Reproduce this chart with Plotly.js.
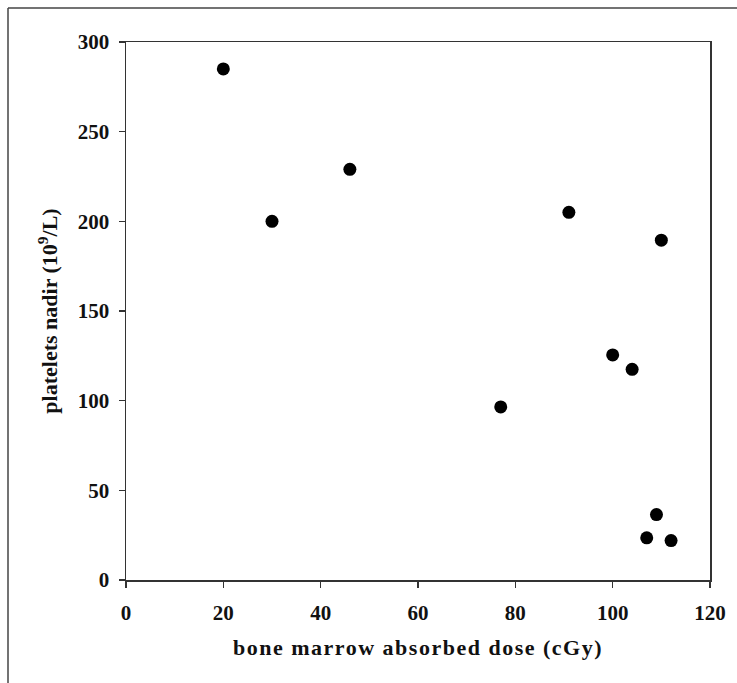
<!DOCTYPE html>
<html>
<head>
<meta charset="utf-8">
<script src="https://cdn.plot.ly/plotly-3.0.1.min.js"></script>
<style>
html,body{margin:0;padding:0;background:#fff;}
#chart{width:737px;height:683px;}
.xtitle{letter-spacing:1.5px;}
</style>
</head>
<body>
<div id="chart"></div>
<script>
const doseCGy = [20, 30, 46, 77, 91, 100, 104, 110, 109, 107, 112];
const plateletsNadir = [285, 200, 229, 96.5, 205, 125.5, 117.5, 189.5, 36.5, 23.5, 22];
const xTicks = [0, 20, 40, 60, 80, 100, 120];
const yTicks = [0, 50, 100, 150, 200, 250, 300];

const font = {family: '"Liberation Serif", "Times New Roman", serif', color: '#111'};

const trace = {
  x: doseCGy, y: plateletsNadir, type: 'scatter', mode: 'markers',
  marker: {size: 13, color: '#000'}, hoverinfo: 'skip'
};

const axisCommon = {
  showgrid: false, zeroline: false, showline: true, linecolor: '#333', linewidth: 1.5,
  ticks: 'outside', ticklen: 6, tickwidth: 1.5, tickcolor: '#333',
  tickfont: Object.assign({size: 21, weight: 'bold'}, font), mirror: true
};

const layout = {
  width: 737, height: 683,
  margin: {l: 126, r: 27, t: 42, b: 103},
  paper_bgcolor: '#fff', plot_bgcolor: '#fff',
  showlegend: false,
  xaxis: Object.assign({}, axisCommon, {
    range: [0, 120], tickvals: xTicks, ticktext: xTicks.map(String), ticklabelstandoff: 7,
    title: {text: '<b>bone marrow absorbed dose (cGy)</b>', font: Object.assign({size: 22}, font), standoff: 16}
  }),
  yaxis: Object.assign({}, axisCommon, {
    range: [0, 300], tickvals: yTicks, ticktext: yTicks.map(String), ticklabelstandoff: 5,
    title: {text: '<b>platelets nadir (10<sup>9</sup>/L)</b>', font: Object.assign({size: 22}, font), standoff: 14}
  }),
  shapes: [
    {type: 'line', xref: 'paper', yref: 'paper', x0: (8-126)/584, x1: (740-126)/584, y0: (580-8)/538, y1: (580-8)/538, line: {color: '#444', width: 1.5}},
    {type: 'line', xref: 'paper', yref: 'paper', x0: (8-126)/584, x1: (8-126)/584, y0: (580-8)/538, y1: (580-690)/538, line: {color: '#444', width: 1.5}}
  ]
};

Plotly.newPlot('chart', [trace], layout, {staticPlot: true, displayModeBar: false});
</script>
</body>
</html>
